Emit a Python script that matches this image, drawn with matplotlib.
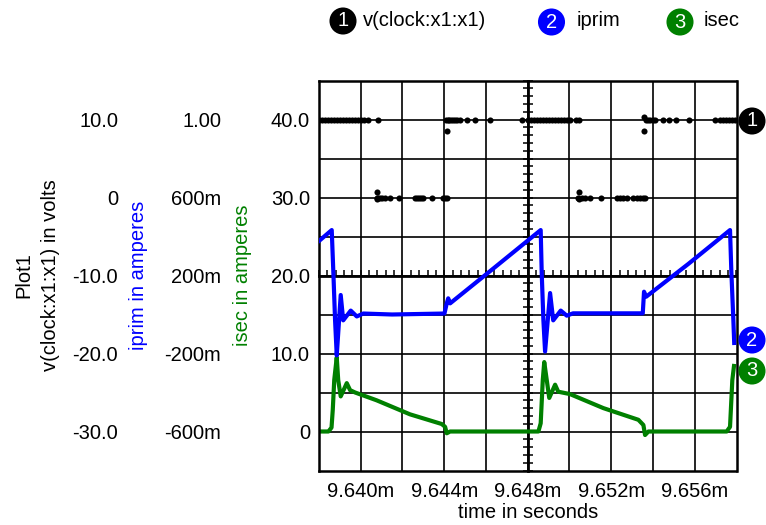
import numpy as np
import matplotlib.pyplot as plt
from matplotlib.ticker import MultipleLocator

plt.rcParams['font.family'] = ['Liberation Sans', 'DejaVu Sans']
plt.rcParams['font.size'] = 14.5

# time values are in microseconds
iprim_t = [9638.00, 9638.61, 9638.69, 9638.77, 9638.85, 9639.04, 9639.16, 9639.52,
           9639.81, 9640.12, 9641.50, 9644.01, 9644.12, 9644.19, 9644.28, 9646.40,
           9648.62, 9648.67, 9648.75, 9648.83, 9649.07, 9649.22, 9649.58, 9649.87,
           9650.17, 9653.51, 9653.57, 9653.67, 9655.70, 9657.69, 9657.75, 9657.85,
           9657.89]
iprim_a = [0.377, 0.433, 0.21, -0.03, -0.21, 0.10, -0.03, 0.02,
           -0.01, 0.005, 0.0, 0.005, 0.057, 0.083, 0.057, 0.24,
           0.433, 0.21, -0.03, -0.19, 0.11, -0.03, 0.02, -0.006,
           0.006, 0.006, 0.117, 0.091, 0.26, 0.433, 0.23, -0.03,
           -0.146]

isec_t = [9638.00, 9638.45, 9638.60, 9638.66, 9638.73, 9638.85, 9638.92, 9639.04,
          9639.33, 9639.49, 9639.73, 9640.76, 9642.36, 9643.88, 9644.04, 9644.12,
          9644.28, 9648.51, 9648.62, 9648.72, 9648.79, 9648.91, 9649.03, 9649.31,
          9649.46, 9650.02, 9651.62, 9653.30, 9653.54, 9653.62, 9653.78, 9657.53,
          9657.69, 9657.80, 9657.88]
isec_a = [0, 0, 0.5, 2.8, 6.6, 9.5, 6.6, 4.5,
          6.2, 5.3, 5.0, 4.0, 2.2, 0.96, 0.6, -0.23,
          0, 0, 1.05, 6.6, 8.9, 6.6, 4.3, 6.0,
          5.1, 4.8, 3.0, 1.5, 0.83, -0.45, 0, 0,
          0.6, 6.6, 8.4]

clk_t = [9638.00, 9638.14, 9638.29, 9638.43, 9638.57, 9638.72, 9638.86, 9639.01,
         9639.15, 9639.29, 9639.44, 9639.58, 9639.72, 9639.87, 9640.01, 9640.16,
         9640.36, 9640.81,
         9640.76, 9640.76, 9640.76, 9640.85, 9640.92, 9641.00, 9641.16, 9641.40,
         9641.85, 9642.60, 9642.70, 9642.79, 9642.89, 9643.00, 9643.40, 9643.95,
         9644.04, 9644.12,
         9644.08, 9644.13, 9644.16, 9644.23, 9644.32, 9644.42, 9644.51, 9644.61,
         9644.75, 9645.08, 9645.48, 9646.19, 9647.71,
         9648.03, 9648.16, 9648.30, 9648.45, 9648.59, 9648.73, 9648.87, 9649.01,
         9649.16, 9649.30, 9649.45, 9649.59, 9649.74, 9649.88, 9650.02, 9650.31,
         9650.46,
         9650.45, 9650.45, 9650.42, 9650.58, 9650.74, 9650.98, 9651.51, 9652.26,
         9652.42, 9652.58, 9652.74, 9653.06, 9653.22, 9653.38, 9653.54, 9653.62,
         9653.57, 9653.57, 9653.66, 9653.76, 9653.86, 9653.98, 9654.10, 9654.49,
         9654.77, 9655.09, 9655.74, 9656.97, 9657.21, 9657.35, 9657.50, 9657.64,
         9657.78, 9657.93]
clk_v = [10, 10, 10, 10, 10, 10, 10, 10,
         10, 10, 10, 10, 10, 10, 10, 10,
         10, 10,
         0.74, -0.23, 0, 0, 0, 0, 0, 0,
         0, 0, 0, 0, 0, 0, 0, 0,
         0, 0,
         10, 8.56, 10, 10, 10, 10, 10, 10,
         10, 10, 10, 10, 10,
         10, 10, 10, 10, 10, 10, 10, 10,
         10, 10, 10, 10, 10, 10, 10, 10,
         10,
         0.74, -0.23, 0, 0, 0, 0, 0, 0,
         0, 0, 0, 0, 0, 0, 0, 0,
         10.3, 8.56, 10, 10, 10, 10, 10, 10,
         10, 10, 10, 10, 10, 10, 10, 10,
         10, 10]

x_ticks_us = [9640, 9644, 9648, 9652, 9656]
x_tick_labels = ["9.640m", "9.644m", "9.648m", "9.652m", "9.656m"]
isec_ticks = [0, 10, 20, 30, 40]
isec_labels = ["0", "10.0", "20.0", "30.0", "40.0"]
iprim_ticks = [-0.6, -0.2, 0.2, 0.6, 1.0]
iprim_labels = ["-600m", "-200m", "200m", "600m", "1.00"]
v_ticks = [-30, -20, -10, 0, 10]
v_labels = ["-30.0", "-20.0", "-10.0", "0", "10.0"]

BLUE = '#0000ff'
GREEN = '#008000'
W, H = 766, 525
us = 1e-6
xlim = (9638 * us, 9658 * us)

fig = plt.figure(figsize=(W / 100, H / 100), dpi=100)
rect = [319 / W, 54.5 / H, 417.5 / W, 390 / H]

# centre crosshair with small ticks
axc = fig.add_axes(rect)
axc.set_xlim(xlim)
axc.set_ylim(-5, 45)
axc.patch.set_visible(False)
for s in ['top', 'right']:
    axc.spines[s].set_visible(False)
axc.spines['left'].set_position(('data', 9648 * us))
axc.spines['bottom'].set_position(('data', 20))
axc.spines['left'].set_linewidth(2.0)
axc.spines['bottom'].set_linewidth(2.0)
axc.xaxis.set_major_locator(MultipleLocator(0.4 * us))
axc.yaxis.set_major_locator(MultipleLocator(1))
axc.tick_params(axis='x', direction='in', length=4.5, width=1.1, labelbottom=False)
axc.tick_params(axis='y', direction='inout', length=6.5, width=1.1, labelleft=False)

# main axes: isec
ax = fig.add_axes(rect)
ax.patch.set_visible(False)
ax.plot(np.array(isec_t) * us, isec_a, color=GREEN, lw=3.0, solid_joinstyle='round')
ax.set_xlim(xlim)
ax.set_ylim(-5, 45)
ax.set_xticks(np.array(x_ticks_us) * us, x_tick_labels)
ax.set_xticks(np.array([9642, 9646, 9650, 9654]) * us, minor=True)
ax.set_yticks(isec_ticks, isec_labels)
ax.set_yticks([5, 15, 25, 35], minor=True)
ax.grid(which='both', color='black', lw=1.2)
ax.tick_params(which='both', length=0)
ax.tick_params(axis='y', pad=6.5)
ax.tick_params(axis='x', pad=8)
for s in ax.spines.values():
    s.set_linewidth(1.8)
ax.set_xlabel('time in seconds', labelpad=2)
ax.set_ylabel('isec in amperes', color=GREEN)
ax.yaxis.set_label_coords((243 - 319) / 417.5, 0.5)
ax.yaxis.label.set_va('center')

# iprim
ax_ip = ax.twinx()
ax_ip.plot(np.array(iprim_t) * us, iprim_a, color=BLUE, lw=3.0, solid_joinstyle='round')
ax_ip.set_ylim(-0.8, 1.2)
ax_ip.yaxis.tick_left()
ax_ip.yaxis.set_label_position('left')
ax_ip.spines['left'].set_position(('outward', 98 * 0.72))
for s in ax_ip.spines.values():
    s.set_visible(False)
ax_ip.set_yticks(iprim_ticks, iprim_labels)
ax_ip.tick_params(length=0, pad=0)
ax_ip.set_ylabel('iprim in amperes', color=BLUE)
ax_ip.yaxis.set_label_coords((138 - 319) / 417.5, 0.5)
ax_ip.yaxis.label.set_va('center')

# clock voltage
ax_v = ax.twinx()
ax_v.plot(np.array(clk_t) * us, clk_v, 'o', color='black', ms=4.4, mew=0)
ax_v.set_ylim(-35, 15)
ax_v.yaxis.tick_left()
ax_v.yaxis.set_label_position('left')
ax_v.spines['left'].set_position(('outward', 201 * 0.72))
for s in ax_v.spines.values():
    s.set_visible(False)
ax_v.set_yticks(v_ticks, v_labels)
ax_v.tick_params(length=0, pad=0)
ax_v.set_ylabel('Plot1\nv(clock:x1:x1) in volts', color='black', ma='center',
                linespacing=1.5)
ax_v.yaxis.set_label_coords((37.5 - 319) / 417.5, 0.5)
ax_v.yaxis.label.set_va('center')
ax_v.set_xlim(xlim)


def badge(x, y, num, color):
    fig.text(x / W, 1 - y / H, num, color='white', ha='center', va='center',
             fontsize=14.5,
             bbox=dict(boxstyle='circle,pad=0.2', fc=color, ec='none'))


# legend along the top
badge(343, 21, '1', 'black')
fig.text(363 / W, 1 - 21 / H, 'v(clock:x1:x1)', ha='left', va='center')
badge(551.5, 22, '2', BLUE)
fig.text(577 / W, 1 - 21 / H, 'iprim', ha='left', va='center')
badge(680, 22, '3', GREEN)
fig.text(704 / W, 1 - 21 / H, 'isec', ha='left', va='center')

# trace markers at right edge
badge(752, 121, '1', 'black')
badge(752, 340, '2', BLUE)
badge(752, 371, '3', GREEN)

fig.savefig('out.png', dpi=100)
